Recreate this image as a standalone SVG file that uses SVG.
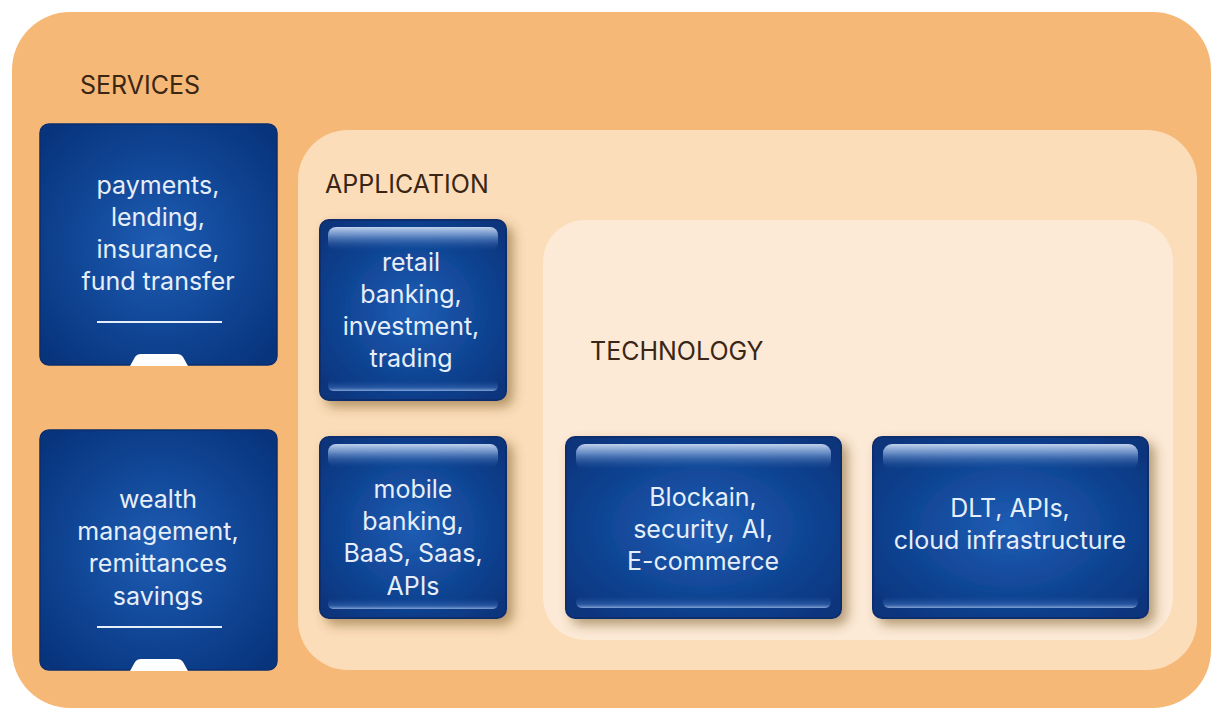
<svg xmlns="http://www.w3.org/2000/svg" width="1211" height="712" viewBox="0 0 1211 712">
<defs>
  <radialGradient id="boxGrad" cx="0.5" cy="0.5" r="0.65">
    <stop offset="0" stop-color="#1F5DB4"/>
    <stop offset="0.6" stop-color="#0F4493"/>
    <stop offset="1" stop-color="#08347C"/>
  </radialGradient>
  <linearGradient id="glossTop" x1="0" y1="0" x2="0" y2="1">
    <stop offset="0" stop-color="#C9DAF2" stop-opacity="0.95"/>
    <stop offset="0.35" stop-color="#7EA1D6" stop-opacity="0.8"/>
    <stop offset="1" stop-color="#1A4F9E" stop-opacity="0"/>
  </linearGradient>
  <linearGradient id="glossBot" x1="0" y1="0" x2="0" y2="1">
    <stop offset="0" stop-color="#1A4F9E" stop-opacity="0"/>
    <stop offset="0.7" stop-color="#3E6DB6" stop-opacity="0.6"/>
    <stop offset="1" stop-color="#8FAEDD" stop-opacity="0.9"/>
  </linearGradient>
  <filter id="shadow" x="-20%" y="-20%" width="150%" height="150%">
    <feDropShadow dx="6" dy="6" stdDeviation="6" flood-color="#5A3A10" flood-opacity="0.45"/>
  </filter>
  <style>
    .panelLabel { font-family: Inter, "Liberation Sans", sans-serif; font-size: 25px; fill: #3A2614; }
    .boxText { font-family: Inter, "Liberation Sans", sans-serif; font-size: 25px; fill: #E6EEF9; text-anchor: middle; }
    .svcBox { fill: url(#boxGrad); stroke: #0A2E6E; stroke-width: 1.5; }
    .glossBox { fill: url(#boxGrad); stroke: #0A2E6E; stroke-width: 2; filter: url(#shadow); }
    .gTop { fill: url(#glossTop); }
    .gBot { fill: url(#glossBot); }
    .rule { stroke: #E6EEF9; stroke-width: 2; }
    .tab { fill: #FFFFFF; }
  </style>
</defs>

<g id="services-panel">
  <rect x="12" y="12" width="1199" height="696" rx="58" fill="#F6B877"/>
  <text class="panelLabel" x="80" y="94">SERVICES</text>
</g>

<g id="application-panel">
  <rect x="298" y="130" width="899" height="540" rx="50" fill="#FCDDB9"/>
  <text class="panelLabel" x="325" y="193">APPLICATION</text>
</g>

<g id="technology-panel">
  <rect x="543" y="220" width="630" height="420" rx="42" fill="#FDEAD6"/>
  <text class="panelLabel" x="590" y="360">TECHNOLOGY</text>
</g>

<g id="svc-payments">
  <rect class="svcBox" x="40" y="124" width="237" height="241" rx="9"/>
  <text class="boxText" x="158" y="194">payments,</text>
  <text class="boxText" x="158" y="226">lending,</text>
  <text class="boxText" x="158" y="258">insurance,</text>
  <text class="boxText" x="158" y="290">fund transfer</text>
  <line class="rule" x1="97" y1="322" x2="222" y2="322"/>
  <path class="tab" d="M130 366 L135 357 Q137 354 141 354 L177 354 Q181 354 183 357 L188 366 Z"/>
</g>

<g id="svc-wealth">
  <rect class="svcBox" x="40" y="430" width="237" height="240" rx="9"/>
  <text class="boxText" x="158" y="508">wealth</text>
  <text class="boxText" x="158" y="540">management,</text>
  <text class="boxText" x="158" y="572">remittances</text>
  <text class="boxText" x="158" y="605">savings</text>
  <line class="rule" x1="97" y1="627" x2="222" y2="627"/>
  <path class="tab" d="M130 671 L135 662 Q137 659 141 659 L177 659 Q181 659 183 662 L188 671 Z"/>
</g>

<g id="app-retail">
  <rect class="glossBox" x="320" y="220" width="186" height="180" rx="9"/>
  <rect class="gTop" x="328" y="227" width="170" height="24" rx="8"/>
  <rect class="gBot" x="328" y="380" width="170" height="11" rx="5"/>
  <text class="boxText" x="411" y="271">retail</text>
  <text class="boxText" x="411" y="303">banking,</text>
  <text class="boxText" x="411" y="335">investment,</text>
  <text class="boxText" x="411" y="367">trading</text>
</g>

<g id="app-mobile">
  <rect class="glossBox" x="320" y="437" width="186" height="181" rx="9"/>
  <rect class="gTop" x="328" y="444" width="170" height="24" rx="8"/>
  <rect class="gBot" x="328" y="598" width="170" height="11" rx="5"/>
  <text class="boxText" x="413" y="498">mobile</text>
  <text class="boxText" x="413" y="530">banking,</text>
  <text class="boxText" x="413" y="562">BaaS, Saas,</text>
  <text class="boxText" x="413" y="595">APIs</text>
</g>

<g id="tech-blockchain">
  <rect class="glossBox" x="566" y="437" width="275" height="181" rx="9"/>
  <rect class="gTop" x="576" y="444" width="255" height="26" rx="9"/>
  <rect class="gBot" x="576" y="596" width="255" height="12" rx="6"/>
  <text class="boxText" x="703" y="506">Blockain,</text>
  <text class="boxText" x="703" y="538">security, AI,</text>
  <text class="boxText" x="703" y="570">E-commerce</text>
</g>

<g id="tech-dlt">
  <rect class="glossBox" x="873" y="437" width="275" height="181" rx="9"/>
  <rect class="gTop" x="883" y="444" width="255" height="26" rx="9"/>
  <rect class="gBot" x="883" y="596" width="255" height="12" rx="6"/>
  <text class="boxText" x="1010" y="517">DLT, APIs,</text>
  <text class="boxText" x="1010" y="549">cloud infrastructure</text>
</g>

<g id="connectors"/>
</svg>
